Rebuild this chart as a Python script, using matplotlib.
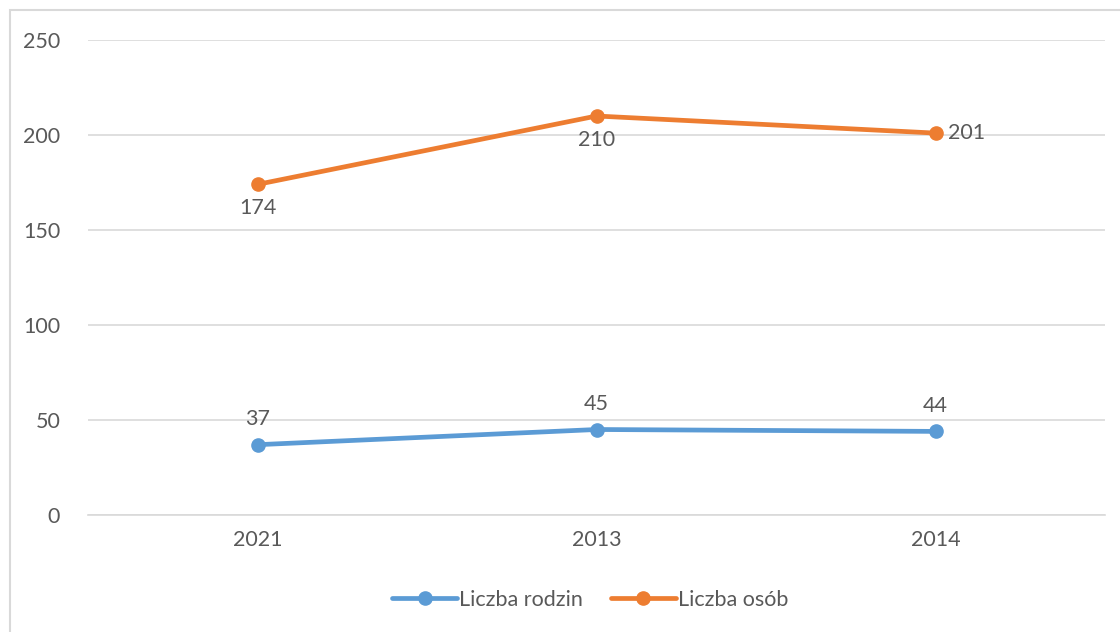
import matplotlib
matplotlib.use('Agg')
import matplotlib.pyplot as plt
from matplotlib.patches import Rectangle

plt.rcParams['font.family'] = ['Lato', 'DejaVu Sans']

years = ['2021', '2013', '2014']
rodziny = [37, 45, 44]
osoby = [174, 210, 201]

blue = '#5B9BD5'
orange = '#ED7D31'
txt = '#595959'
fs = 15.5

fig = plt.figure(figsize=(11.2, 6.32), dpi=100)
ax = fig.add_axes([88 / 1120, 1 - 515 / 632, (1105 - 88) / 1120, (515 - 40) / 632])

x = list(range(len(years)))
ax.plot(x, rodziny, color=blue, linewidth=3.4, marker='o', markersize=9.5, label='Liczba rodzin',
        solid_capstyle='round', zorder=3)
ax.plot(x, osoby, color=orange, linewidth=3.4, marker='o', markersize=9.5, label='Liczba osób',
        solid_capstyle='round', zorder=3)

# etykiety danych
for xi, v in zip(x, rodziny):
    ax.annotate(str(v), (xi, v), xytext=(0, 11), textcoords='offset points',
                ha='center', va='bottom', fontsize=fs, color=txt)
for xi, v, pos in zip(x, osoby, ['below', 'below', 'right']):
    if pos == 'below':
        ax.annotate(str(v), (xi, v), xytext=(0, -10), textcoords='offset points',
                    ha='center', va='top', fontsize=fs, color=txt)
    else:
        ax.annotate(str(v), (xi, v), xytext=(9, 0), textcoords='offset points',
                    ha='left', va='center', fontsize=fs, color=txt)

ax.set_xlim(-0.5, 2.5)
ax.set_ylim(0, 250)
ax.set_yticks(range(0, 251, 50))
ax.set_xticks(x)
ax.set_xticklabels(years)
ax.tick_params(axis='both', length=0, labelsize=fs, colors=txt)
ax.tick_params(axis='y', pad=20)
ax.tick_params(axis='x', pad=11)
ax.grid(axis='y', color='#D9D9D9', linewidth=1.2)
ax.set_axisbelow(True)
for s in ['top', 'right', 'left']:
    ax.spines[s].set_visible(False)
ax.spines['bottom'].set_color('#D9D9D9')
ax.spines['bottom'].set_linewidth(1.2)

leg = fig.legend(loc='center', bbox_to_anchor=(0.527, 1 - 600 / 632), ncol=2, frameon=False,
                 fontsize=fs, handlelength=3.0, columnspacing=1.3, handletextpad=0.1)
for t in leg.get_texts():
    t.set_color(txt)

fig.patches.append(Rectangle((10 / 1120, -0.05), 1.1, 1 - 10 / 632 + 0.05,
                             transform=fig.transFigure, fill=False,
                             edgecolor='#D9D9D9', linewidth=1.5))

fig.savefig('out.png', dpi=100)
